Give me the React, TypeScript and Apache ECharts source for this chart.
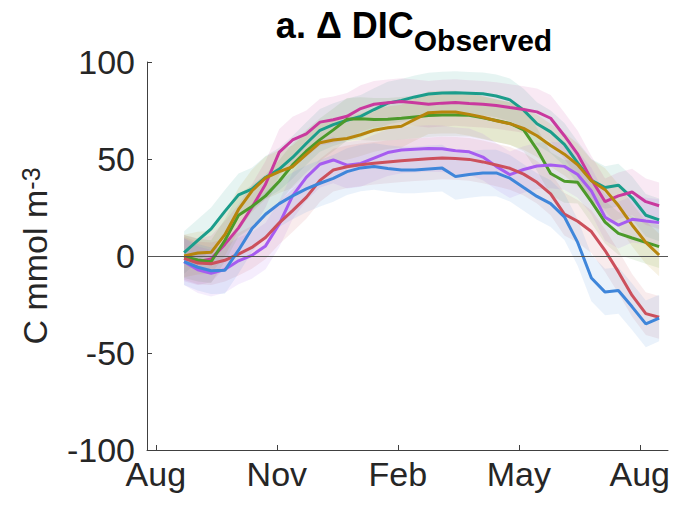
import React, { useEffect, useRef } from "react";
import * as echarts from "echarts";

// time axis: months since August (Aug = 0)
const months = [0.70, 1.04, 1.37, 1.71, 2.05, 2.38, 2.72, 3.06, 3.39, 3.73, 4.07, 4.40, 4.74, 5.08, 5.41, 5.75, 6.09, 6.42, 6.76, 7.10, 7.43, 7.77, 8.11, 8.44, 8.78, 9.12, 9.45, 9.79, 10.13, 10.46, 10.80, 11.14, 11.47, 11.81, 12.15, 12.48];
const tickValues = [0, 3, 6, 9, 12];
const tickLabels = ["Aug", "Nov", "Feb", "May", "Aug"];

const teal = [1.8, 8, 14, 23, 31.5, 34.5, 40.5, 44.8, 50.8, 58, 64.8, 67.7, 70, 72, 75.5, 78.8, 80.2, 82, 83.5, 84, 84.2, 83.9, 83.6, 82.5, 80.5, 75.2, 68.2, 64, 57.5, 48, 39, 35.3, 36.5, 30, 21, 18.6];
const magenta = [-1, -3, -1.5, 6, 14.5, 25, 37, 53.5, 59.8, 63, 69, 70.2, 72, 76, 78.2, 79, 79.6, 79, 78.2, 78.8, 79.1, 78.6, 78.2, 77.6, 76.5, 75.5, 74.3, 71, 62, 52.5, 39.5, 28, 31, 33, 28, 25.9];
const green = [-0.3, -2.1, -2.9, 8, 21, 25.5, 31, 38.5, 47, 54, 60, 65, 70.5, 70.8, 70.4, 70.5, 71, 71.7, 72.4, 72.7, 72.7, 72.6, 71.2, 69.8, 68.3, 65, 55, 42.5, 38.5, 38, 28, 17.5, 11.7, 9.3, 7, 4.8];
const gold = [0, 1.5, 1.9, 11, 24, 33.5, 40.3, 43.5, 46, 52.4, 58.4, 59.8, 60.6, 62.5, 64.8, 66.1, 66.9, 70.4, 73.9, 74.2, 74.2, 73, 71.5, 69.7, 68.2, 65.8, 62, 57, 52.5, 47, 38.8, 34.2, 26, 16, 7, 0.5];
const purple = [-2.9, -7.1, -8.9, -7, -2.5, 0.3, 5.2, 16.5, 31, 40.5, 47.3, 49.5, 46.8, 47.7, 50.5, 53.3, 54.6, 55, 55.4, 55.3, 54.2, 53.7, 51, 46.2, 41.9, 44.6, 46.4, 46.9, 46.2, 42, 33.5, 20, 15.9, 18.9, 18, 17.2];
const red = [-1.2, -3.6, -4, -2.2, 1, 4.4, 9.5, 17.1, 23.4, 30.2, 39, 44.3, 46, 47, 47.8, 48.5, 49.1, 49.6, 50.1, 50.5, 50.3, 49.8, 48.5, 46.9, 45.2, 42.2, 38, 32, 21.6, 17.9, 12.6, 2.8, -8.2, -20.3, -29.7, -31.6];
const blue = [-2.9, -5.8, -7.6, -7.4, 3, 14, 21.5, 27, 31, 34.6, 37.5, 40, 43.5, 45.4, 46.1, 45.1, 44.3, 44.3, 44.9, 45.3, 41, 42, 42.8, 42.8, 40.1, 35.3, 30.7, 27, 20.2, 7, -11.3, -18.6, -17.8, -26.2, -35, -32];

// half-width of each shaded uncertainty band
const bandHalf = [11, 12, 11, 11, 12, 11, 12];

const seriesList = [
  { name: "teal", values: teal, color: "#1b9d8b" },
  { name: "magenta", values: magenta, color: "#c9399e" },
  { name: "green", values: green, color: "#4c9a2a" },
  { name: "gold", values: gold, color: "#b7850c" },
  { name: "purple", values: purple, color: "#a65cf0" },
  { name: "red", values: red, color: "#cc505c" },
  { name: "blue", values: blue, color: "#3f86da" },
];

export default function App() {
  const ref = useRef<HTMLDivElement>(null);
  useEffect(() => {
    if (!ref.current) return;
    const chart = echarts.init(ref.current, null, { renderer: "svg" });
    const font = "'Liberation Sans', Arial, Helvetica, sans-serif";

    const bandSeries = seriesList.map((s, k) => ({
      type: "custom",
      name: s.name + "-band",
      silent: true,
      z: 1,
      data: [[0]],
      renderItem: (params: any, api: any) => {
        const up = s.values.map((v, i) => api.coord([months[i], v + bandHalf[k]]));
        const lo = s.values.map((v, i) => api.coord([months[i], v - bandHalf[k]])).reverse();
        return {
          type: "polygon",
          shape: { points: up.concat(lo) },
          style: { fill: s.color, opacity: 0.11 },
        };
      },
    }));

    const lineSeries = seriesList.map((s, k) => ({
      type: "line",
      name: s.name,
      data: s.values.map((v, i) => [months[i], v]),
      showSymbol: false,
      symbol: "none",
      z: 3,
      lineStyle: { color: s.color, width: 3 },
      itemStyle: { color: s.color },
      ...(k === 0
        ? {
            markLine: {
              silent: true,
              symbol: "none",
              label: { show: false },
              lineStyle: { color: "#555555", width: 1, type: "solid" },
              data: [{ yAxis: 0 }],
            },
          }
        : {}),
    }));

    chart.setOption({
      animation: false,
      backgroundColor: "#ffffff",
      title: {
        text: "{a|a. Δ DIC}{b|Observed}",
        left: 409,
        textAlign: "center",
        top: 2,
        textStyle: {
          rich: {
            a: { fontFamily: font, fontSize: 36, fontWeight: "bold", color: "#000", lineHeight: 39, verticalAlign: "top" },
            b: { fontFamily: font, fontSize: 30, fontWeight: "bold", color: "#000", lineHeight: 31, verticalAlign: "top", padding: [18, 0, 0, 0] },
          },
        },
      },
      grid: { left: 147, right: 12, top: 62, bottom: 62, containLabel: false, outerBoundsMode: "none" },
      xAxis: {
        type: "value",
        min: -0.22,
        max: 12.7,
        axisLine: { onZero: false, lineStyle: { color: "#404040", width: 1 } },
        axisTick: { show: true, inside: true, length: 5, customValues: tickValues, lineStyle: { color: "#404040" } },
        axisLabel: {
          customValues: tickValues,
          formatter: (v: number) => tickLabels[tickValues.indexOf(Math.round(v))] ?? "",
          fontFamily: font,
          fontSize: 34,
          color: "#262626",
          margin: 7,
        },
        splitLine: { show: false },
      },
      yAxis: {
        type: "value",
        min: -100,
        max: 100,
        interval: 50,
        name: "C mmol m{sup|-3}",
        nameLocation: "middle",
        nameRotate: 90,
        nameGap: 95,
        nameTextStyle: {
          fontFamily: font,
          fontSize: 34,
          color: "#262626",
          rich: {
            sup: { fontFamily: font, fontSize: 25, color: "#262626", verticalAlign: "top", lineHeight: 18 },
          },
        },
        axisLine: { show: true, onZero: false, lineStyle: { color: "#404040", width: 1 } },
        axisTick: { show: true, inside: true, length: 5, lineStyle: { color: "#404040" } },
        axisLabel: { fontFamily: font, fontSize: 34, color: "#262626", margin: 12 },
        splitLine: { show: false },
      },
      series: [...bandSeries, ...lineSeries],
    });
    return () => chart.dispose();
  }, []);
  return <div ref={ref} style={{ width: 680, height: 512, position: "absolute", left: 0, top: 0 }} />;
}
